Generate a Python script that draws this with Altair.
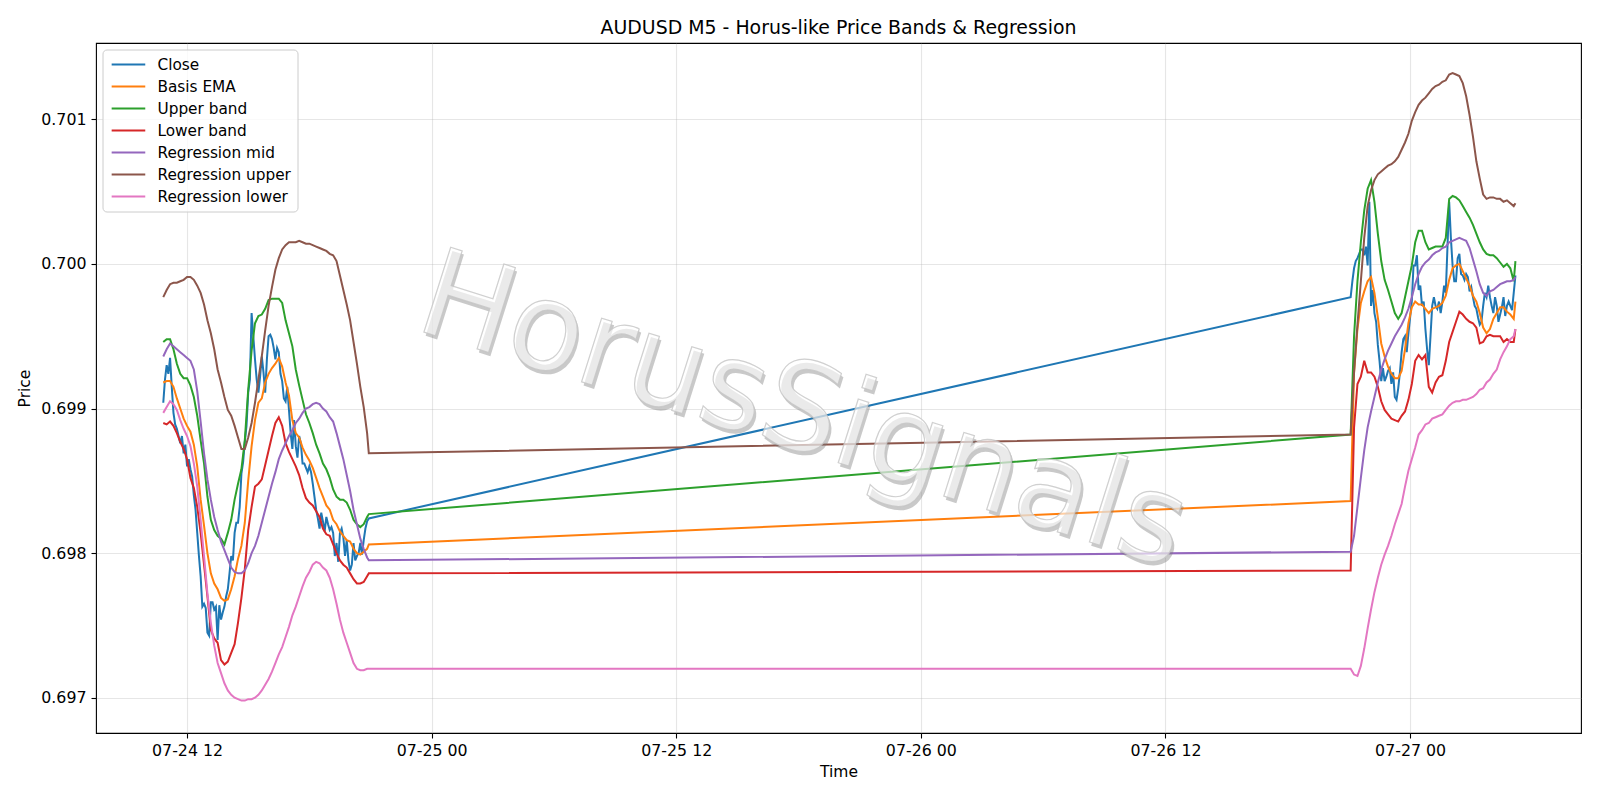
import altair as alt
import pandas as pd

# ---------------- data ----------------
series_names = ["Close", "Basis EMA", "Upper band", "Lower band",
                "Regression mid", "Regression upper", "Regression lower"]
series_colors = ["#1f77b4", "#ff7f0e", "#2ca02c", "#d62728",
                 "#9467bd", "#8c564b", "#e377c2"]

title_text = "AUDUSD M5 - Horus-like Price Bands & Regression"
watermark_text = "HorusSignals"
watermark_time = "2020-07-25T18:13:00"
watermark_value = 0.69897

y_ticks = [0.697, 0.698, 0.699, 0.700, 0.701]

# Close, 5-minute bars
close_day1 = [  # 2020-07-24 10:50 .. 20:55
    0.69904, 0.69920,
    0.69930, 0.69924, 0.69935, 0.69915, 0.69897, 0.69889, 0.69886, 0.69881, 0.69876, 0.69881, 0.69869, 0.69875,
    0.69860, 0.69865, 0.69858, 0.69853, 0.69840, 0.69830, 0.69814, 0.69798, 0.69784, 0.69763, 0.69765, 0.69762,
    0.69745, 0.69743, 0.69766, 0.69766, 0.69761, 0.69763, 0.69740, 0.69764, 0.69754, 0.69759, 0.69763, 0.69770,
    0.69775, 0.69786, 0.69798, 0.69795, 0.69814, 0.69821, 0.69821, 0.69832, 0.69855, 0.69863, 0.69877, 0.69888,
    0.69911, 0.69920, 0.69966, 0.69950, 0.69934, 0.69920, 0.69911, 0.69922, 0.69936, 0.69925, 0.69911, 0.69934,
    0.69950, 0.69951, 0.69948, 0.69942, 0.69934, 0.69942, 0.69939, 0.69924, 0.69919, 0.69907, 0.69905, 0.69915,
    0.69899, 0.69883, 0.69872, 0.69892, 0.69874, 0.69866, 0.69881, 0.69876, 0.69862, 0.69862, 0.69859, 0.69856,
    0.69860, 0.69856, 0.69848, 0.69839, 0.69830, 0.69824, 0.69817, 0.69828, 0.69822, 0.69815, 0.69825, 0.69820,
    0.69816, 0.69818, 0.69814, 0.69798, 0.69807, 0.69794, 0.69814, 0.69817, 0.69811, 0.69798, 0.69809, 0.69795,
    0.69788, 0.69792, 0.69807, 0.69795, 0.69798, 0.69800, 0.69807, 0.69799, 0.69809, 0.69817, 0.69822, 0.69824,
]
close_day2 = [  # 2020-07-26 21:05 .. 2020-07-27 05:10
    0.69977, 0.69988, 0.69997, 0.70002, 0.70004, 0.70007, 0.70010, 0.70010, 0.70006, 0.70012, 0.69999,
    0.70043, 0.69971, 0.69982, 0.69966, 0.69960, 0.69944, 0.69933, 0.69919, 0.69928, 0.69919, 0.69922, 0.69926,
    0.69928, 0.69917, 0.69925, 0.69908, 0.69906, 0.69914, 0.69925, 0.69939, 0.69948, 0.69950, 0.69939, 0.69952,
    0.69963, 0.69974, 0.69999, 0.69999, 0.70006, 0.69982, 0.69985, 0.69971, 0.69974, 0.69955, 0.69941, 0.69930,
    0.69950, 0.69971, 0.69977, 0.69971, 0.69969, 0.69974, 0.69966, 0.69974, 0.69985, 0.69980, 0.70012, 0.70043,
    0.70018, 0.69999, 0.69988, 0.69988, 0.70004, 0.70007, 0.69993, 0.69992, 0.69989, 0.69993, 0.69991, 0.69981,
    0.69984, 0.69977, 0.69971, 0.69969, 0.69963, 0.69958, 0.69960, 0.69971, 0.69980, 0.69977, 0.69985, 0.69977,
    0.69971, 0.69966, 0.69977, 0.69971, 0.69960, 0.69965, 0.69970, 0.69977, 0.69964, 0.69971, 0.69974, 0.69971,
    0.69968, 0.69980, 0.69992,
]

# Smooth series, read every 10 minutes (day 1: 10:50..20:50 + 20:55; day 2: 21:05..05:05 + 05:10)
ema_day1 = [0.69918,
    0.69919, 0.69919, 0.69915, 0.69907, 0.69900, 0.69893,
    0.69888, 0.69884, 0.69875, 0.69860, 0.69837, 0.69819,
    0.69800, 0.69786, 0.69779, 0.69775, 0.69769, 0.69767,
    0.69768, 0.69775, 0.69784, 0.69796, 0.69805, 0.69821,
    0.69850, 0.69874, 0.69892, 0.69904, 0.69907, 0.69918,
    0.69924, 0.69928, 0.69931, 0.69935, 0.69929, 0.69918,
    0.69909, 0.69892, 0.69883, 0.69880, 0.69873, 0.69868,
    0.69864, 0.69859, 0.69852, 0.69845, 0.69839, 0.69833,
    0.69830, 0.69823, 0.69820, 0.69815, 0.69812, 0.69809,
    0.69808, 0.69803, 0.69800, 0.69799, 0.69801, 0.69803,
    0.69806]
upper_day1 = [0.69946,
    0.69948, 0.69948, 0.69941, 0.69931, 0.69924, 0.69921,
    0.69921, 0.69916, 0.69908, 0.69895, 0.69878, 0.69862,
    0.69839, 0.69823, 0.69816, 0.69812, 0.69810, 0.69806,
    0.69814, 0.69823, 0.69837, 0.69848, 0.69858, 0.69878,
    0.69913, 0.69940, 0.69959, 0.69964, 0.69965, 0.69969,
    0.69975, 0.69976, 0.69976, 0.69976, 0.69973, 0.69961,
    0.69952, 0.69943, 0.69927, 0.69916, 0.69906, 0.69896,
    0.69890, 0.69883, 0.69875, 0.69869, 0.69862, 0.69858,
    0.69852, 0.69844, 0.69839, 0.69837, 0.69837, 0.69835,
    0.69830, 0.69823, 0.69820, 0.69818, 0.69820, 0.69825,
    0.69827]
lower_day1 = [0.69890,
    0.69889, 0.69891, 0.69888, 0.69883, 0.69877, 0.69872,
    0.69865, 0.69852, 0.69845, 0.69832, 0.69814, 0.69792,
    0.69770, 0.69747, 0.69741, 0.69738, 0.69726, 0.69723,
    0.69725, 0.69731, 0.69737, 0.69752, 0.69769, 0.69789,
    0.69816, 0.69832, 0.69846, 0.69848, 0.69851, 0.69861,
    0.69871, 0.69881, 0.69890, 0.69894, 0.69888, 0.69876,
    0.69870, 0.69865, 0.69860, 0.69854, 0.69845, 0.69838,
    0.69835, 0.69833, 0.69829, 0.69825, 0.69817, 0.69813,
    0.69812, 0.69806, 0.69800, 0.69795, 0.69792, 0.69790,
    0.69786, 0.69782, 0.69779, 0.69779, 0.69780, 0.69784,
    0.69786]
regmid_day1 = [0.69936,
    0.69941, 0.69945, 0.69943, 0.69941, 0.69939, 0.69937,
    0.69935, 0.69933, 0.69927, 0.69912, 0.69891, 0.69869,
    0.69851, 0.69837, 0.69825, 0.69816, 0.69808, 0.69802,
    0.69796, 0.69790, 0.69787, 0.69786, 0.69786, 0.69788,
    0.69793, 0.69800, 0.69805, 0.69812, 0.69821, 0.69830,
    0.69839, 0.69848, 0.69856, 0.69865, 0.69871, 0.69876,
    0.69881, 0.69885, 0.69890, 0.69893, 0.69897, 0.69900,
    0.69901, 0.69903, 0.69904, 0.69903, 0.69900, 0.69898,
    0.69894, 0.69891, 0.69883, 0.69874, 0.69865, 0.69854,
    0.69843, 0.69830, 0.69820, 0.69810, 0.69803, 0.69797,
    0.69795]
regup_day1 = [0.69977,
    0.69982, 0.69986, 0.69987, 0.69987, 0.69988, 0.69989,
    0.69991, 0.69991, 0.69989, 0.69985, 0.69980, 0.69972,
    0.69961, 0.69952, 0.69941, 0.69927, 0.69918, 0.69908,
    0.69899, 0.69895, 0.69888, 0.69880, 0.69872, 0.69872,
    0.69880, 0.69890, 0.69904, 0.69920, 0.69936, 0.69954,
    0.69971, 0.69984, 0.69996, 0.70004, 0.70010, 0.70013,
    0.70015, 0.70015, 0.70015, 0.70016, 0.70015, 0.70014,
    0.70014, 0.70013, 0.70012, 0.70011, 0.70010, 0.70009,
    0.70007, 0.70006, 0.70002, 0.69992, 0.69982, 0.69972,
    0.69961, 0.69946, 0.69931, 0.69915, 0.69901, 0.69883,
    0.69869]
reglow_day1 = [0.69897,
    0.69901, 0.69905, 0.69903, 0.69899, 0.69892, 0.69886,
    0.69881, 0.69874, 0.69862, 0.69846, 0.69823, 0.69798,
    0.69772, 0.69752, 0.69736, 0.69724, 0.69717, 0.69710,
    0.69705, 0.69702, 0.69700, 0.69699, 0.69698, 0.69698,
    0.69699, 0.69699, 0.69700, 0.69702, 0.69705, 0.69709,
    0.69713, 0.69718, 0.69724, 0.69730, 0.69735, 0.69742,
    0.69749, 0.69757, 0.69763, 0.69770, 0.69777, 0.69783,
    0.69787, 0.69792, 0.69794, 0.69793, 0.69790, 0.69788,
    0.69783, 0.69775, 0.69765, 0.69754, 0.69745, 0.69738,
    0.69731, 0.69724, 0.69720, 0.69719, 0.69719, 0.69720,
    0.69720]

ema_day2 = [
    0.69836, 0.69925, 0.69955, 0.69973, 0.69981, 0.69988,
    0.69991, 0.69980, 0.69963, 0.69945, 0.69936, 0.69929,
    0.69924, 0.69921, 0.69921, 0.69926, 0.69941, 0.69959,
    0.69970, 0.69974, 0.69972, 0.69972, 0.69969, 0.69966,
    0.69969, 0.69970, 0.69971, 0.69973, 0.69978, 0.69989,
    0.69997, 0.69999, 0.70000, 0.69995, 0.69990, 0.69985,
    0.69978, 0.69974, 0.69966, 0.69956, 0.69952, 0.69955,
    0.69962, 0.69966, 0.69970, 0.69970, 0.69967, 0.69965,
    0.69962, 0.69974]
upper_day2 = [
    0.69882, 0.69950, 0.69988, 0.70015, 0.70037, 0.70052,
    0.70058, 0.70043, 0.70021, 0.70002, 0.69989, 0.69982,
    0.69974, 0.69966, 0.69962, 0.69966, 0.69977, 0.69988,
    0.69999, 0.70015, 0.70023, 0.70023, 0.70015, 0.70010,
    0.70011, 0.70012, 0.70012, 0.70012, 0.70018, 0.70045,
    0.70047, 0.70046, 0.70044, 0.70040, 0.70036, 0.70032,
    0.70027, 0.70021, 0.70015, 0.70010, 0.70007, 0.70006,
    0.70006, 0.70004, 0.70001, 0.69998, 0.70000, 0.69997,
    0.69988, 0.70002]
lower_day2 = [
    0.69788, 0.69887, 0.69917, 0.69922, 0.69933, 0.69925,
    0.69925, 0.69922, 0.69915, 0.69905, 0.69899, 0.69896,
    0.69893, 0.69892, 0.69891, 0.69895, 0.69898, 0.69906,
    0.69917, 0.69933, 0.69937, 0.69934, 0.69937, 0.69915,
    0.69911, 0.69918, 0.69922, 0.69923, 0.69933, 0.69946,
    0.69953, 0.69960, 0.69967, 0.69965, 0.69962, 0.69960,
    0.69959, 0.69956, 0.69945, 0.69946, 0.69950, 0.69951,
    0.69950, 0.69950, 0.69950, 0.69946, 0.69948, 0.69946,
    0.69946, 0.69955]
regmid_day2 = [
    0.69801, 0.69812, 0.69832, 0.69852, 0.69871, 0.69887,
    0.69898, 0.69908, 0.69918, 0.69927, 0.69934, 0.69940,
    0.69945, 0.69950, 0.69954, 0.69958, 0.69963, 0.69969,
    0.69977, 0.69986, 0.69993, 0.69998, 0.70001, 0.70003,
    0.70006, 0.70008, 0.70009, 0.70011, 0.70012, 0.70015,
    0.70016, 0.70017, 0.70018, 0.70017, 0.70016, 0.70011,
    0.70003, 0.69995, 0.69986, 0.69980, 0.69978, 0.69981,
    0.69982, 0.69984, 0.69986, 0.69987, 0.69988, 0.69988,
    0.69989, 0.69991]
regup_day2 = [
    0.69882, 0.69925, 0.69958, 0.69988, 0.70018, 0.70040,
    0.70051, 0.70058, 0.70062, 0.70064, 0.70066, 0.70068,
    0.70069, 0.70071, 0.70074, 0.70079, 0.70084, 0.70090,
    0.70099, 0.70105, 0.70110, 0.70113, 0.70115, 0.70118,
    0.70121, 0.70123, 0.70124, 0.70126, 0.70127, 0.70131,
    0.70132, 0.70131, 0.70130, 0.70125, 0.70116, 0.70103,
    0.70088, 0.70071, 0.70059, 0.70048, 0.70045, 0.70046,
    0.70046, 0.70045, 0.70045, 0.70043, 0.70044, 0.70042,
    0.70040, 0.70042]
reglow_day2 = [
    0.69720, 0.69716, 0.69715, 0.69722, 0.69734, 0.69748,
    0.69761, 0.69773, 0.69783, 0.69792, 0.69799, 0.69805,
    0.69812, 0.69820, 0.69827, 0.69834, 0.69846, 0.69857,
    0.69865, 0.69873, 0.69882, 0.69885, 0.69889, 0.69890,
    0.69893, 0.69894, 0.69895, 0.69896, 0.69899, 0.69902,
    0.69904, 0.69905, 0.69905, 0.69906, 0.69906, 0.69907,
    0.69908, 0.69910, 0.69913, 0.69914, 0.69918, 0.69920,
    0.69924, 0.69927, 0.69934, 0.69939, 0.69943, 0.69948,
    0.69950, 0.69955]

# ---------------- build long table ----------------
FMT = "%Y-%m-%dT%H:%M:%S"


def bar_times(start, n, freq):
    return [t.strftime(FMT) for t in pd.date_range(start, periods=n, freq=freq)]


def sampled_times(start, n, last):
    ts = list(pd.date_range(start, periods=n - 1, freq="10min")) + [pd.Timestamp(last)]
    return [t.strftime(FMT) for t in ts]


rows = []
for t, v in zip(bar_times("2020-07-24 10:50", len(close_day1), "5min"), close_day1):
    rows.append((t, v, "Close"))
for t, v in zip(bar_times("2020-07-26 21:05", len(close_day2), "5min"), close_day2):
    rows.append((t, v, "Close"))

smooth = {
    "Basis EMA": (ema_day1, ema_day2),
    "Upper band": (upper_day1, upper_day2),
    "Lower band": (lower_day1, lower_day2),
    "Regression mid": (regmid_day1, regmid_day2),
    "Regression upper": (regup_day1, regup_day2),
    "Regression lower": (reglow_day1, reglow_day2),
}
for name, (d1, d2) in smooth.items():
    for t, v in zip(sampled_times("2020-07-24 10:50", len(d1), "2020-07-24 20:55"), d1):
        rows.append((t, v, name))
    for t, v in zip(sampled_times("2020-07-26 21:05", len(d2), "2020-07-27 05:10"), d2):
        rows.append((t, v, name))

df = pd.DataFrame(rows, columns=["time", "value", "series"])
wm_df = pd.DataFrame({"time": [watermark_time], "value": [watermark_value], "label": [watermark_text]})

# ---------------- chart ----------------
FONT = "DejaVu Sans"
x_domain = [alt.DateTime(year=2020, month=7, date=24, hours=7, minutes=32),
            alt.DateTime(year=2020, month=7, date=27, hours=8, minutes=23)]
x_ticks = [alt.DateTime(year=2020, month=7, date=24, hours=12),
           alt.DateTime(year=2020, month=7, date=25, hours=0),
           alt.DateTime(year=2020, month=7, date=25, hours=12),
           alt.DateTime(year=2020, month=7, date=26, hours=0),
           alt.DateTime(year=2020, month=7, date=26, hours=12),
           alt.DateTime(year=2020, month=7, date=27, hours=0)]

x_enc = alt.X("time:T",
              scale=alt.Scale(domain=x_domain, nice=False),
              axis=alt.Axis(values=x_ticks, format="%m-%d %H", title="Time",
                            labelAngle=0, titlePadding=7))
y_enc = alt.Y("value:Q",
              scale=alt.Scale(domain=[0.696756, 0.701528], nice=False, zero=False),
              axis=alt.Axis(values=y_ticks, format=".3f", title="Price", titlePadding=8))

lines = alt.Chart(df).mark_line(strokeWidth=2, clip=True).encode(
    x=x_enc,
    y=y_enc,
    color=alt.Color("series:N",
                    scale=alt.Scale(domain=series_names, range=series_colors),
                    sort=series_names,
                    legend=alt.Legend(
                        title=None, orient="none", legendX=6.5, legendY=6.5,
                        direction="vertical",
                        symbolType="M-0.73,0L3.47,0", symbolSize=256,
                        symbolStrokeWidth=2,
                        labelFont=FONT, labelFontSize=15.3, labelColor="black",
                        labelOffset=31, labelLimit=400,
                        padding=6, rowPadding=4,
                        fillColor="rgba(255,255,255,0.8)", strokeColor="#cccccc",
                        cornerRadius=4)),
)

shadow = alt.Chart(wm_df).mark_text(
    angle=17.5, fontSize=122, font=FONT, color="#7a7a7a", opacity=0.4,
    dx=3, dy=3, align="center", baseline="middle"
).encode(x="time:T", y="value:Q", text="label:N")

front = alt.Chart(wm_df).mark_text(
    angle=17.5, fontSize=122, font=FONT, color="#ffffff", fillOpacity=0.62,
    stroke="#c4c4c4", strokeWidth=1.2, strokeOpacity=0.8,
    align="center", baseline="middle"
).encode(x="time:T", y="value:Q", text="label:N")

chart = alt.layer(lines, shadow, front).properties(
    width=1485,
    height=690,
    title=alt.TitleParams(text=title_text, font=FONT, fontSize=18.9,
                          fontWeight="normal", color="black", anchor="middle", offset=5),
    autosize=alt.AutoSizeParams(type="none"),
    padding={"left": 88, "top": 35, "right": 8, "bottom": 50},
    background="white",
).configure_view(
    stroke="black", strokeWidth=1.1
).configure_axis(
    labelFont=FONT, labelFontSize=15.8, labelColor="black",
    titleFont=FONT, titleFontSize=15.5, titleFontWeight="normal", titleColor="black",
    tickColor="black", tickSize=5, tickWidth=1.1, labelPadding=5,
    domain=False, grid=True, gridColor="#b0b0b0", gridOpacity=0.32, gridWidth=1.1,
    labelFlush=False, labelOverlap=False,
)

chart.save("out.html", embed_options={"renderer": "svg", "actions": False})
